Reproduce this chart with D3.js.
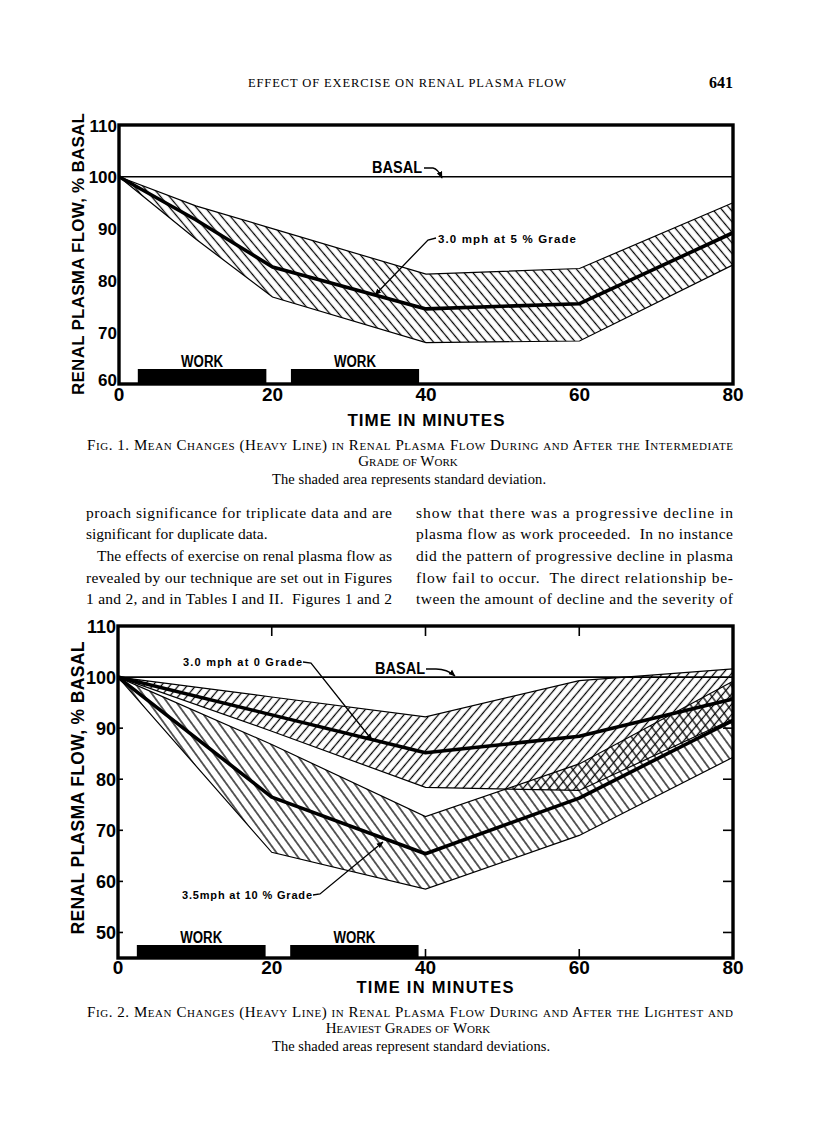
<!DOCTYPE html>
<html>
<head>
<meta charset="utf-8">
<script src="https://cdn.jsdelivr.net/npm/d3@7"></script>
<style>
  html, body { margin: 0; padding: 0; background: #fff; }
  svg { display: block; }
</style>
</head>
<body>
<svg id="page" width="816" height="1130"></svg>
<script>
// ---------------- DATA ----------------
const xTickValues = [0, 20, 40, 60, 80];
const workPeriods = [[2.45, 19.2], [22.4, 39.1]];
const workLabel = "WORK";

// Fig. 1 : 3.0 mph at 5 % grade
const fig1Time  = [0, 10, 20, 40, 60, 80];
const fig1Mean  = [100, 91.7, 82.6, 74.5, 75.5, 89.2];
const fig1Upper = [100, 94.4, 90.0, 81.2, 82.3, 95.0];
const fig1Lower = [100, 88.0, 76.8, 68.0, 68.3, 83.0];
const fig1YTicks = [60, 70, 80, 90, 100, 110];

// Fig. 2 : 3.0 mph at 0 grade (A) and 3.5 mph at 10 % grade (B)
const fig2Time   = [0, 20, 40, 60, 80];
const fig2AMean  = [100, 92.6, 85.2, 88.4, 95.7];
const fig2AUpper = [100, 96.1, 92.2, 99.3, 101.6];
const fig2ALower = [100, 89.4, 78.4, 77.8, 91.8];
const fig2BMean  = [100, 76.5, 65.4, 76.3, 91.5];
const fig2BUpper = [100, 86.8, 72.7, 83.0, 99.2];
const fig2BLower = [100, 65.7, 58.5, 69.0, 84.3];
const fig2YTicks = [50, 60, 70, 80, 90, 100, 110];

const basalValue = 100;

// ---------------- SETUP ----------------
const svg = d3.select("#page");
const SANS = "'Liberation Sans', Arial, sans-serif";
const SERIF = "'Liberation Serif', 'Times New Roman', serif";

const defs = svg.append("defs");
function hatch(id, angle, spacing, sw) {
  const p = defs.append("pattern")
    .attr("id", id).attr("patternUnits", "userSpaceOnUse")
    .attr("width", spacing).attr("height", spacing)
    .attr("patternTransform", `rotate(${angle})`);
  p.append("line").attr("x1", spacing / 2).attr("x2", spacing / 2)
    .attr("y1", -1).attr("y2", spacing + 1)
    .attr("stroke", "#000").attr("stroke-width", sw);
}
hatch("h1", -40, 6.8, 1.25);
hatch("hA", 40, 6.6, 1.25);
hatch("hB", -36, 7.4, 1.25);

function text(x, y, str, opts = {}) {
  const t = svg.append("text").attr("x", x).attr("y", y).text(str)
    .attr("font-family", opts.family || SERIF)
    .attr("font-size", opts.size || 15)
    .attr("font-weight", opts.weight || "normal")
    .attr("text-anchor", opts.anchor || "start")
    .attr("fill", "#000");
  if (opts.len) t.attr("textLength", opts.len).attr("lengthAdjust", opts.adjust || "spacing");
  if (opts.smallcaps) t.style("font-variant", "small-caps");
  if (opts.rotate) t.attr("transform", `rotate(${opts.rotate},${x},${y})`);
  return t;
}

// arrow marker
defs.append("marker").attr("id", "arr").attr("viewBox", "0 0 10 10")
  .attr("refX", 9).attr("refY", 5).attr("markerWidth", 7).attr("markerHeight", 7)
  .attr("orient", "auto-start-reverse").attr("markerUnits", "userSpaceOnUse")
  .append("path").attr("d", "M0,1 L10,5 L0,9 Z").attr("fill", "#000");

function drawBand(g, x, y, time, lower, upper, pat) {
  const idx = d3.range(time.length);
  const area = d3.area().x(i => x(time[i])).y0(i => y(lower[i])).y1(i => y(upper[i]));
  g.append("path").attr("d", area(idx)).attr("fill", `url(#${pat})`).attr("stroke", "none");
  const line = d3.line().x(i => x(time[i]));
  g.append("path").attr("d", line.y(i => y(upper[i]))(idx)).attr("fill", "none").attr("stroke", "#000").attr("stroke-width", 1.2);
  g.append("path").attr("d", line.y(i => y(lower[i]))(idx)).attr("fill", "none").attr("stroke", "#000").attr("stroke-width", 1.2);
}
function drawMean(g, x, y, time, mean) {
  const idx = d3.range(time.length);
  g.append("path").attr("d", d3.line().x(i => x(time[i])).y(i => y(mean[i]))(idx))
    .attr("fill", "none").attr("stroke", "#000").attr("stroke-width", 3.6)
    .attr("stroke-linejoin", "round");
}

function chartFrame(x, y, yTicks, cfg) {
  const g = svg.append("g");
  const [x0, x1] = x.range();
  const [yb, yt] = y.range();
  g.append("line").attr("x1", x0).attr("x2", x1).attr("y1", y(basalValue)).attr("y2", y(basalValue))
    .attr("stroke", "#000").attr("stroke-width", 1.6);
  workPeriods.forEach(([a, b]) => {
    g.append("rect").attr("x", x(a)).attr("y", yb - cfg.barH).attr("width", x(b) - x(a)).attr("height", cfg.barH).attr("fill", "#000");
    text((x(a) + x(b)) / 2, yb - cfg.barH - 2, workLabel, { family: SANS, weight: "bold", size: 16, anchor: "middle", len: 42, adjust: "spacingAndGlyphs" });
  });
  g.append("rect").attr("x", x0).attr("y", yt).attr("width", x1 - x0).attr("height", yb - yt)
    .attr("fill", "none").attr("stroke", "#000").attr("stroke-width", 3.4);
  yTicks.forEach((v, i) => {
    const dy = i === 0 && cfg.lift ? -cfg.lift : 0;
    text(x0 - 2, y(v) + 6.5 + dy, String(v), { family: SANS, weight: "bold", size: cfg.ySize, anchor: "end" });
  });
  xTickValues.forEach(v => {
    text(x(v), cfg.xLabY, String(v), { family: SANS, weight: "bold", size: 19, anchor: "middle" });
  });
  return g;
}

// ---------------- HEADER ----------------
text(248, 87, "EFFECT OF EXERCISE ON RENAL PLASMA FLOW", { size: 12.5, len: 318 });
text(733, 88, "641", { size: 16, anchor: "end", weight: "bold" });

// ---------------- FIG 1 ----------------
const x1s = d3.scaleLinear().domain([0, 80]).range([119, 733]);
const y1s = d3.scaleLinear().domain([60, 110]).range([384, 125]);
const g1 = svg.append("g");
drawBand(g1, x1s, y1s, fig1Time, fig1Lower, fig1Upper, "h1");
drawMean(g1, x1s, y1s, fig1Time, fig1Mean);
chartFrame(x1s, y1s, fig1YTicks, { barH: 15, ySize: 17, xLabY: 401, lift: 5 });

text(84, 254, "RENAL PLASMA FLOW, % BASAL", { family: SANS, weight: "bold", size: 17, anchor: "middle", rotate: -90, len: 282 });
text(426, 426, "TIME IN MINUTES", { family: SANS, weight: "bold", size: 17, anchor: "middle", len: 157 });

// annotations fig 1
text(372, 173, "BASAL", { family: SANS, weight: "bold", size: 16, len: 50, adjust: "spacingAndGlyphs" });
svg.append("path").attr("d", "M424,168 L433,168 Q438,169 442,178").attr("fill", "none")
  .attr("stroke", "#000").attr("stroke-width", 1.3).attr("marker-end", "url(#arr)");
text(438, 243, "3.0 mph at 5 % Grade", { family: SANS, weight: "bold", size: 11.5, len: 138 });
svg.append("path").attr("d", "M436,238 L428,240 L375,295").attr("fill", "none")
  .attr("stroke", "#000").attr("stroke-width", 1.3).attr("marker-end", "url(#arr)");

// caption fig 1
text(87, 450, "Fig. 1. Mean Changes (Heavy Line) in Renal Plasma Flow During and After the Intermediate", { size: 15, smallcaps: true, len: 646 });
text(408, 466, "Grade of Work", { size: 15, smallcaps: true, anchor: "middle" });
text(272, 484, "The shaded area represents standard deviation.", { size: 14.5, len: 274 });

// ---------------- BODY TEXT ----------------
const bodyLeft = [
  ["proach significance for triplicate data and are", 86, 306],
  ["significant for duplicate data.", 86, 0],
  ["The effects of exercise on renal plasma flow as", 97, 295],
  ["revealed by our technique are set out in Figures", 86, 306],
  ["1 and 2, and in Tables I and II.  Figures 1 and 2", 86, 306]
];
const bodyRight = [
  "show that there was a progressive decline in",
  "plasma flow as work proceeded.  In no instance",
  "did the pattern of progressive decline in plasma",
  "flow fail to occur.  The direct relationship be-",
  "tween the amount of decline and the severity of"
];
const bodyY = [518, 539, 561, 583, 604];
bodyLeft.forEach(([s, x, w], i) => {
  const o = { size: 15.5 };
  if (w) o.len = w;
  text(x, bodyY[i], s, o).attr("xml:space", "preserve");
});
bodyRight.forEach((s, i) => text(416, bodyY[i], s, { size: 15.5, len: 317 }).attr("xml:space", "preserve"));

// ---------------- FIG 2 ----------------
const x2s = d3.scaleLinear().domain([0, 80]).range([118, 733]);
const y2s = d3.scaleLinear().domain([45, 110]).range([958, 626]);
const g2 = svg.append("g");
drawBand(g2, x2s, y2s, fig2Time, fig2BLower, fig2BUpper, "hB");
drawBand(g2, x2s, y2s, fig2Time, fig2ALower, fig2AUpper, "hA");
drawMean(g2, x2s, y2s, fig2Time, fig2AMean);
drawMean(g2, x2s, y2s, fig2Time, fig2BMean);
chartFrame(x2s, y2s, fig2YTicks, { barH: 13, ySize: 18, xLabY: 974, lift: 0 });

// inner ticks fig 2
const tk = svg.append("g").attr("stroke", "#000").attr("stroke-width", 1.6);
[20, 40, 60].forEach(v => {
  tk.append("line").attr("x1", x2s(v)).attr("x2", x2s(v)).attr("y1", 626).attr("y2", 636);
});
[40, 60].forEach(v => {
  tk.append("line").attr("x1", x2s(v)).attr("x2", x2s(v)).attr("y1", 958).attr("y2", 949);
});
[50, 60, 70, 80, 90].forEach(v => {
  tk.append("line").attr("x1", 733).attr("x2", 723).attr("y1", y2s(v)).attr("y2", y2s(v));
});
[50, 60, 70, 80, 90].forEach(v => {
  tk.append("line").attr("x1", 118).attr("x2", 123).attr("y1", y2s(v)).attr("y2", y2s(v));
});

text(84, 788, "RENAL PLASMA FLOW, % BASAL", { family: SANS, weight: "bold", size: 17.5, anchor: "middle", rotate: -90, len: 293 });
text(435, 993, "TIME IN MINUTES", { family: SANS, weight: "bold", size: 16.5, anchor: "middle", len: 157 });

// annotations fig 2
text(375, 674, "BASAL", { family: SANS, weight: "bold", size: 16, len: 50, adjust: "spacingAndGlyphs" });
svg.append("path").attr("d", "M426,669 L436,669 Q447,669 455,676").attr("fill", "none")
  .attr("stroke", "#000").attr("stroke-width", 1.3).attr("marker-end", "url(#arr)");
text(183, 666, "3.0 mph at 0 Grade", { family: SANS, weight: "bold", size: 11, len: 119 });
svg.append("path").attr("d", "M303,662 L311,663 L372,740").attr("fill", "none")
  .attr("stroke", "#000").attr("stroke-width", 1.3).attr("marker-end", "url(#arr)");
text(182, 899, "3.5mph at 10 % Grade", { family: SANS, weight: "bold", size: 11, len: 130 });
svg.append("path").attr("d", "M313,895 L320,894 L383,842").attr("fill", "none")
  .attr("stroke", "#000").attr("stroke-width", 1.3).attr("marker-end", "url(#arr)");

// caption fig 2
text(87, 1017, "Fig. 2. Mean Changes (Heavy Line) in Renal Plasma Flow During and After the Lightest and", { size: 15, smallcaps: true, len: 646 });
text(408, 1033, "Heaviest Grades of Work", { size: 15, smallcaps: true, anchor: "middle" });
text(272, 1051, "The shaded areas represent standard deviations.", { size: 14.5, len: 278 });
</script>
</body>
</html>
